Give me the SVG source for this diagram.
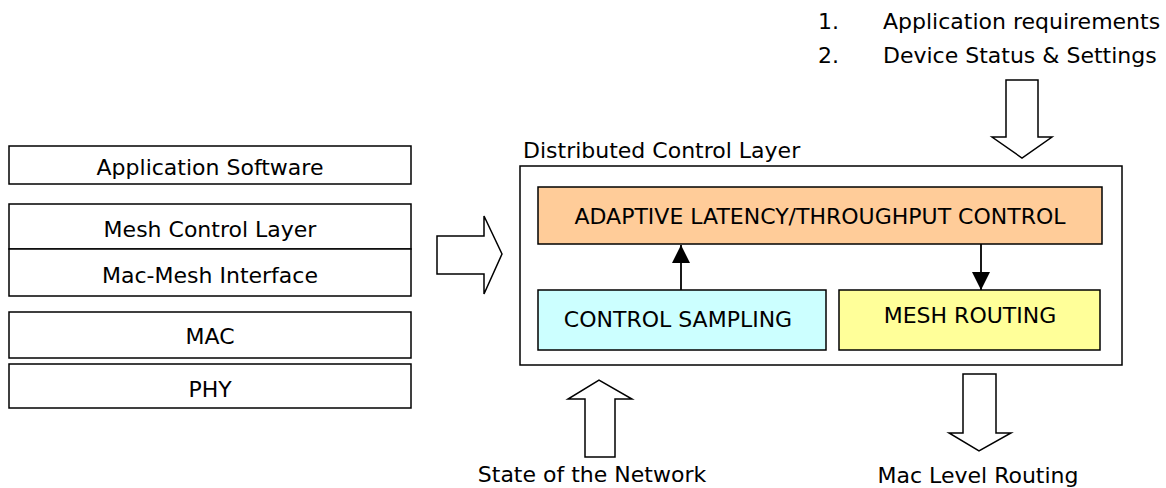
<svg xmlns="http://www.w3.org/2000/svg" width="1166" height="488" viewBox="0 0 1166 488">
<style>
text{font-family:"DejaVu Sans",Verdana,sans-serif;font-size:22px;fill:#000}
.c{text-anchor:middle}
.box{fill:#fff;stroke:#000;stroke-width:1.5}
.blk{fill:#fff;stroke:#000;stroke-width:1.5;stroke-linejoin:miter}
.ln{stroke:#000;stroke-width:1.8;fill:none}
</style>
<defs>
<marker id="ah" viewBox="0 0 18 18" refX="18" refY="9" markerWidth="18" markerHeight="18" markerUnits="userSpaceOnUse" orient="auto">
<path d="M0,0 L18,9 L0,18 Z" fill="#000"/>
</marker>
</defs>
<rect width="1166" height="488" fill="#fff"/>
<g id="stack">
<g id="app-software"><rect class="box" x="9" y="146" width="402" height="38"/><text class="c" x="210" y="175">Application Software</text></g>
<g id="mesh-control"><rect class="box" x="9" y="204" width="402" height="45"/><text class="c" x="210" y="237">Mesh Control Layer</text></g>
<g id="mac-mesh"><rect class="box" x="9" y="249" width="402" height="47"/><text class="c" x="210" y="283">Mac-Mesh Interface</text></g>
<g id="mac"><rect class="box" x="9" y="312" width="402" height="46"/><text class="c" x="210" y="344">MAC</text></g>
<g id="phy"><rect class="box" x="9" y="364" width="402" height="44"/><text class="c" x="210" y="397">PHY</text></g>
</g>
<g id="dcl">
<text x="523" y="158">Distributed Control Layer</text>
<rect class="box" x="520" y="166" width="602" height="199"/>
</g>
<g id="adaptive"><rect x="538" y="187" width="564" height="57" fill="#ffcc99" stroke="#000" stroke-width="1.5"/><text class="c" x="820" y="224">ADAPTIVE LATENCY/THROUGHPUT CONTROL</text></g>
<g id="sampling"><rect x="538" y="290" width="288" height="60" fill="#ccffff" stroke="#000" stroke-width="1.5"/><text class="c" x="678" y="327">CONTROL SAMPLING</text></g>
<g id="routing"><rect x="839" y="290" width="261" height="60" fill="#ffff99" stroke="#000" stroke-width="1.5"/><text class="c" x="970" y="323">MESH ROUTING</text></g>
<g id="inputs">
<text x="818" y="29">1.</text><text x="883" y="29">Application requirements</text>
<text x="818" y="63">2.</text><text x="883" y="63">Device Status &amp; Settings</text>
</g>
<g id="state-label"><text class="c" x="592" y="482">State of the Network</text></g>
<g id="mac-routing-label"><text class="c" x="978" y="483">Mac Level Routing</text></g>
<g id="connectors">
<path class="blk" d="M437,236 H484 V216 L502,254 L484,294 V274 H437 Z"/>
<path class="blk" d="M1006,80 H1038 V137 H1052 L1022,158 L992,137 H1006 Z"/>
<path class="blk" d="M963,374 H996 V433 H1011 L979,451 L949,433 H963 Z"/>
<path class="blk" d="M585,457 V399 H568 L599,380 L632,399 H615 V457 Z"/>
<line class="ln" x1="681" y1="290" x2="681" y2="245" marker-end="url(#ah)"/>
<line class="ln" x1="981" y1="244" x2="981" y2="290" marker-end="url(#ah)"/>
</g>
</svg>
